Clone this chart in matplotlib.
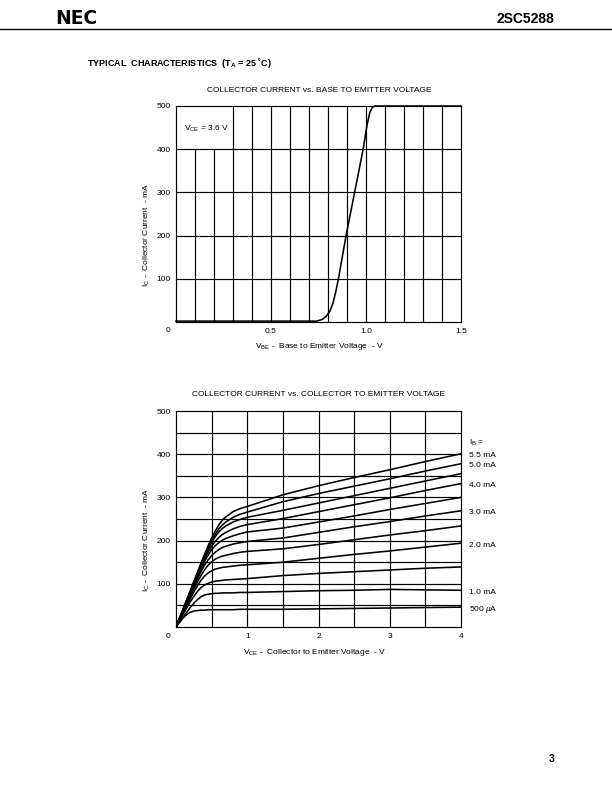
import matplotlib
matplotlib.use('Agg')
import matplotlib.pyplot as plt
from matplotlib.lines import Line2D

plt.rcParams['font.family'] = ['Liberation Sans', 'DejaVu Sans']
plt.rcParams['mathtext.fontset'] = 'custom'
plt.rcParams['mathtext.rm'] = 'Liberation Sans'
plt.rcParams['mathtext.it'] = 'Liberation Sans:italic'
plt.rcParams['mathtext.bf'] = 'Liberation Sans:bold'

# ---------------- data ----------------
# Chart 1: Ic vs Vbe (Vce = 3.6 V)
vbe = [0.0, 0.1, 0.2, 0.3, 0.4, 0.5, 0.6, 0.7, 0.74, 0.77, 0.79, 0.81, 0.825,
       0.84, 0.855, 0.895, 0.94, 0.985, 1.005, 1.02, 1.035, 1.05, 1.5]
ic_vbe = [2, 2, 2, 2, 2, 2, 2, 2, 2, 6, 13, 25, 42,
          68, 100, 200, 300, 400, 455, 485, 498, 500, 500]
vbe_ticks = [0.5, 1.0, 1.5]
vbe_tick_labels = ['0.5', '1.0', '1.5']
ic_ticks = [100, 200, 300, 400, 500]

# Chart 2: Ic vs Vce for base currents (mA)
vce = [0, 0.05, 0.1, 0.15, 0.2, 0.25, 0.3, 0.35, 0.4, 0.45, 0.5, 0.55, 0.6,
       0.65, 0.7, 0.8, 0.9, 1.0, 1.5, 2.0, 2.5, 3.0, 3.5, 4.0]
ib_levels = [5.5, 5.0, 4.5, 4.0, 3.5, 3.0, 2.5, 2.0, 1.5, 1.0, 0.5]
ic_5_5 = [0, 21, 42, 63, 84, 105, 126, 147, 168, 188, 206, 222, 236, 247, 255, 267, 274, 279, 306, 327, 346, 364, 383, 401]
ic_5_0 = [0, 21, 41, 62, 83, 104, 124, 145, 165, 184, 200, 215, 227, 236, 243, 254, 261, 266, 290, 309, 326, 343, 361, 378]
ic_4_5 = [0, 20, 41, 61, 82, 102, 122, 142, 161, 179, 195, 209, 220, 228, 234, 243, 249, 254, 270, 287, 304, 321, 338, 355]
ic_4_0 = [0, 20, 40, 60, 80, 100, 119, 138, 156, 173, 187, 198, 207, 214, 219, 227, 233, 237, 251, 267, 283, 299, 316, 332]
ic_3_5 = [0, 19, 39, 58, 78, 97, 116, 134, 151, 166, 179, 188, 195, 201, 205, 211, 216, 220, 229, 243, 257, 272, 286, 300]
ic_3_0 = [0, 19, 37, 56, 75, 93, 111, 128, 143, 155, 165, 173, 179, 184, 187, 192, 195, 198, 206, 219, 232, 244, 257, 269]
ic_2_5 = [0, 18, 35, 53, 71, 88, 104, 119, 132, 143, 151, 157, 161, 164, 166, 170, 173, 175, 181, 191, 202, 213, 223, 234]
ic_2_0 = [0, 16, 33, 49, 65, 81, 95, 108, 118, 125, 130, 134, 136, 138, 139, 141, 143, 144, 150, 159, 168, 176, 185, 194]
ic_1_5 = [0, 15, 30, 44, 58, 71, 82, 91, 97, 101, 104, 106, 107, 108, 109, 110, 111, 112, 119, 124, 128, 132, 136, 139]
ic_1_0 = [0, 11, 23, 34, 45, 55, 63, 70, 74, 76, 77, 78, 78, 79, 79, 79, 80, 80, 82, 84, 85, 87, 86, 85]
ic_0_5 = [0, 11, 21, 29, 34, 37, 38, 39, 39, 40, 40, 40, 40, 40, 40, 40, 41, 41, 41, 42, 43, 44, 45, 46]
ic_curves = [ic_5_5, ic_5_0, ic_4_5, ic_4_0, ic_3_5, ic_3_0, ic_2_5, ic_2_0, ic_1_5, ic_1_0, ic_0_5]
curve_labels = {5.5: '5.5 mA', 5.0: '5.0 mA', 4.0: '4.0 mA', 3.0: '3.0 mA',
                2.0: '2.0 mA', 1.0: '1.0 mA', 0.5: r'500 $\mu$A'}
vce_ticks = [1, 2, 3, 4]
vce_tick_labels = ['1', '2', '3', '4']

# ---------------- figure ----------------
W, H = 612, 792
fig = plt.figure(figsize=(W / 100, H / 100), dpi=100)


def fx(x):
    return x / W


def fy(y):
    return 1 - y / H


FS = 6.0
LW_GRID = 0.85
LW_CURVE = 1.15

# header
fig.text(fx(55), fy(19), 'NEC', fontsize=13.5, fontweight='bold',
         family=['DejaVu Sans'], ha='left', va='center')
fig.text(fx(554), fy(19), '2SC5288', fontsize=10, fontweight='bold',
         ha='right', va='center')
fig.add_artist(Line2D([0, 1], [fy(29), fy(29)], transform=fig.transFigure,
                      color='black', lw=1.0))
fig.text(fx(87), fy(63), r'TYPICAL  CHARACTERISTICS  (T$_{\mathbf{A}}$ = 25 ˚C)',
         fontsize=6.5, fontweight='bold', ha='left', va='center')
fig.text(fx(552), fy(759), '3', fontsize=7.5, fontweight='bold',
         ha='center', va='center')


def style_axes(ax):
    for s in ax.spines.values():
        s.set_linewidth(LW_GRID)
        s.set_color('black')
    ax.tick_params(length=0, labelsize=FS, colors='black')
    ax.tick_params(axis='y', pad=3.6)
    ax.tick_params(axis='x', pad=4.0)


# ---- chart 1 ----
ax1 = fig.add_axes([fx(176), fy(322), (461 - 176) / W, (322 - 106) / H])
ax1.set_xlim(0, 1.5)
ax1.set_ylim(0, 500)
style_axes(ax1)
ax1.set_xticks(vbe_ticks)
ax1.set_xticklabels(vbe_tick_labels)
ax1.set_yticks(ic_ticks)
grid_x1 = [round(0.1 * i, 1) for i in range(1, 15)]
for gx in grid_x1:
    top = 400 if gx < 0.25 else 500
    ax1.plot([gx, gx], [0, top], color='black', lw=LW_GRID)
for gy in ic_ticks[:-1]:
    ax1.axhline(gy, color='black', lw=LW_GRID)
ax1.plot(vbe, ic_vbe, color='black', lw=LW_CURVE, clip_on=False, zorder=5)
ax1.text(0.028, 0.895, r'V$_{\mathregular{CE}}$ = 3.6 V', transform=ax1.transAxes,
         fontsize=FS, ha='left', va='center')
fig.text(fx(319), fy(90), 'COLLECTOR CURRENT vs. BASE TO EMITTER VOLTAGE',
         fontsize=FS, ha='center', va='center')
fig.text(fx(168), fy(331), '0', fontsize=FS, ha='center', va='center')
fig.text(fx(319), fy(347), r'V$_{\mathregular{BE}}$ -  Base to Emitter Voltage  - V',
         fontsize=FS, ha='center', va='center')
fig.text(fx(147), fy(235), r'I$_{\mathregular{C}}$ -  Collector Current  - mA',
         fontsize=FS, ha='center', va='center', rotation=90)

# ---- chart 2 ----
ax2 = fig.add_axes([fx(176), fy(627), (461 - 176) / W, (627 - 411) / H])
ax2.set_xlim(0, 4)
ax2.set_ylim(0, 500)
style_axes(ax2)
ax2.set_xticks(vce_ticks)
ax2.set_xticklabels(vce_tick_labels)
ax2.set_yticks(ic_ticks)
for i in range(1, 8):
    ax2.axvline(0.5 * i, color='black', lw=LW_GRID)
for i in range(1, 10):
    ax2.axhline(50 * i, color='black', lw=LW_GRID)
for ib, ic in zip(ib_levels, ic_curves):
    ax2.plot(vce, ic, color='black', lw=LW_CURVE, zorder=5)
    if ib in curve_labels:
        ax2.annotate(curve_labels[ib], xy=(4.0, ic[-1]), xytext=(6, -1.5),
                     textcoords='offset points', fontsize=FS, ha='left',
                     va='center', annotation_clip=False)
ax2.annotate(r'I$_{\mathregular{B}}$ =', xy=(4.0, ic_5_5[-1]), xytext=(6, 8),
             textcoords='offset points', fontsize=FS, ha='left', va='center',
             annotation_clip=False)
fig.text(fx(318), fy(395), 'COLLECTOR CURRENT vs. COLLECTOR TO EMITTER VOLTAGE',
         fontsize=FS, ha='center', va='center')
fig.text(fx(168), fy(636.5), '0', fontsize=FS, ha='center', va='center')
fig.text(fx(315), fy(652), r'V$_{\mathregular{CE}}$ -  Collector to Emitter Voltage  - V',
         fontsize=FS, ha='center', va='center')
fig.text(fx(147), fy(540), r'I$_{\mathregular{C}}$ -  Collector Current  - mA',
         fontsize=FS, ha='center', va='center', rotation=90)

fig.savefig('out.png', dpi=100)
